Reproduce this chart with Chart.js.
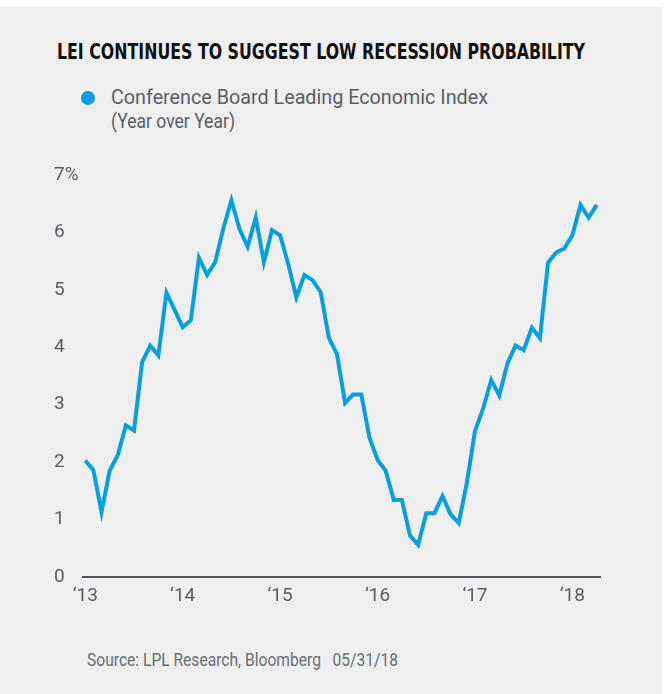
<!DOCTYPE html>
<html>
<head>
<meta charset="utf-8">
<script src="https://cdn.jsdelivr.net/npm/chart.js@4/dist/chart.umd.min.js"></script>
<style>
  html, body { margin: 0; padding: 0; background: #fff; }
  body { width: 668px; height: 694px; position: relative; overflow: hidden; font-family: Roboto, "Liberation Sans", sans-serif; }
  .panel { position: absolute; left: 0; top: 7px; width: 662px; height: 687px; background: #efefef; }
  canvas { position: absolute; left: 0; top: 0; }
  .txt { position: absolute; white-space: nowrap; transform-origin: 0 0; display: inline-block; }
  #title { left: 57px; top: 42px; font-size: 21px; line-height: 21px; font-weight: bold; color: #111; font-family: "Liberation Sans Narrow", "DejaVu Sans Condensed", Roboto, sans-serif; }
  #legDot { position: absolute; left: 81px; top: 91px; width: 14px; height: 14px; border-radius: 50%; background: #079fdc; }
  #leg1 { left: 111px; top: 87px; font-size: 21px; line-height: 21px; color: #5a5e64; }
  #leg2 { left: 111px; top: 111px; font-size: 21px; line-height: 21px; color: #5a5e64; }
  #source { left: 87px; top: 650px; font-size: 19px; line-height: 19px; color: #6a6d72; }
</style>
</head>
<body>
<div class="panel"></div>
<div id="title" class="txt">LEI CONTINUES TO SUGGEST LOW RECESSION PROBABILITY</div>
<div id="legDot"></div>
<div id="leg1" class="txt">Conference Board Leading Economic Index</div>
<div id="leg2" class="txt">(Year over Year)</div>
<div id="source" class="txt">Source: LPL Research, Bloomberg&nbsp;&nbsp;&nbsp;05/31/18</div>
<canvas id="chart" width="668" height="694"></canvas>
<script>
// monthly year-over-year % change, Jan 2013 .. Apr 2018
const lei2013 = [2.03, 1.86, 1.13, 1.85, 2.12, 2.64, 2.55, 3.74, 4.03, 3.86, 4.95, 4.65];
const lei2014 = [4.35, 4.47, 5.56, 5.26, 5.48, 6.07, 6.56, 6.06, 5.75, 6.26, 5.48, 6.04];
const lei2015 = [5.95, 5.45, 4.87, 5.26, 5.17, 4.96, 4.17, 3.88, 3.03, 3.18, 3.18, 2.43];
const lei2016 = [2.04, 1.85, 1.34, 1.34, 0.72, 0.56, 1.11, 1.11, 1.41, 1.09, 0.94, 1.64];
const lei2017 = [2.54, 2.93, 3.43, 3.16, 3.72, 4.03, 3.95, 4.34, 4.16, 5.47, 5.65, 5.72];
const lei2018 = [5.95, 6.48, 6.26, 6.48];

const yearLabels = ["\u201813", "\u201814", "\u201815", "\u201816", "\u201817", "\u201818"];
const yTicks = [0, 1, 2, 3, 4, 5, 6, 7];

const lei = [].concat(lei2013, lei2014, lei2015, lei2016, lei2017, lei2018);
const points = lei.map((v, i) => ({ x: i, y: v }));

const blue = "#079fdc";
const grey = "#5a5e64";
const tickFont = { family: "Roboto", size: 19 };

// squeeze html texts to the widths seen in the reference
function fit(id, w) {
  const el = document.getElementById(id);
  el.style.transform = "scaleX(" + (w / el.getBoundingClientRect().width) + ")";
}
fit("title", 528);
fit("leg1", 377);
fit("leg2", 124);
fit("source", 311);

new Chart(document.getElementById("chart").getContext("2d"), {
  type: "line",
  data: {
    datasets: [{
      data: points,
      borderColor: blue,
      borderWidth: 4,
      pointRadius: 0,
      tension: 0,
      borderJoinStyle: "miter",
    }],
  },
  options: {
    responsive: false,
    animation: false,
    events: [],
    layout: { padding: { left: 54, right: 68, top: 175, bottom: 0 } },
    plugins: { legend: { display: false }, tooltip: { enabled: false } },
    scales: {
      x: {
        type: "linear",
        min: -0.28,
        max: 63.4,
        grid: { display: false, drawTicks: false },
        border: { display: true, color: "#4f5358", width: 2 },
        afterFit: (s) => { s.height = 117; },
        afterBuildTicks: (s) => { s.ticks = yearLabels.map((_, i) => ({ value: i * 12 })); },
        ticks: {
          color: grey,
          font: tickFont,
          padding: 8,
          maxRotation: 0,
          autoSkip: false,
          callback: (v) => yearLabels[Math.round(v / 12)],
        },
      },
      y: {
        min: 0,
        max: 7,
        grid: { display: false, drawTicks: false },
        border: { display: false },
        afterFit: (s) => { s.width = 29; },
        afterBuildTicks: (s) => { s.ticks = yTicks.map((v) => ({ value: v })); },
        ticks: {
          color: grey,
          font: tickFont,
          crossAlign: "far",
          callback: (v) => (v === 7 ? "7%" : v),
        },
      },
    },
  },
});
</script>
</body>
</html>
